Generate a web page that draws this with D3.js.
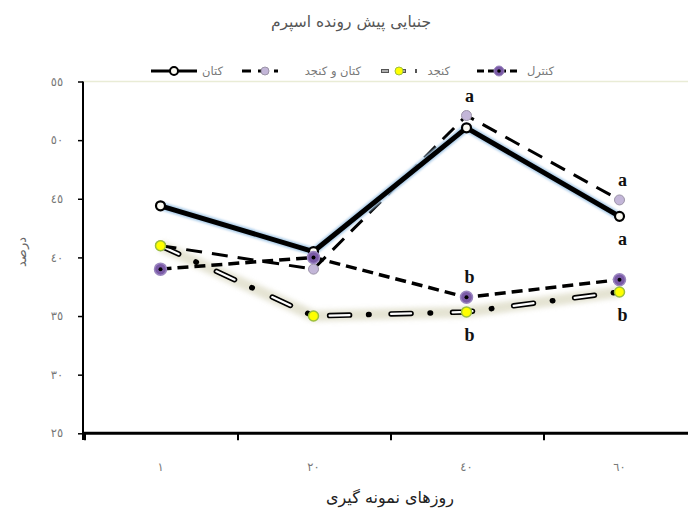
<!DOCTYPE html>
<html><head><meta charset="utf-8">
<script src="https://cdn.jsdelivr.net/npm/d3@7"></script>
<style>body{margin:0;background:#fff}svg{display:block}</style>
</head><body>
<svg id="c" width="688" height="509"></svg>
<script>
const categories = ["1","20","40","60"];
const xTickLabels = ["١","٢٠","٤٠","٦٠"];
const yTicks = [25,30,35,40,45,50,55];
const yTickLabels = ["٢٥","٣٠","٣٥","٤٠","٤٥","٥٠","٥٥"];
const seriesNames = ["کتان","کتان و کنجد","کنجد","کنترل"];
const flax = [44.4, 40.5, 51.05, 43.5];
const flaxSesame = [41.0, 39.0, 52.1, 44.9];
const sesame = [41.0, 35.0, 35.35, 37.05];
const control = [39.0, 40.0, 36.6, 38.1];
// significance letters: [series, categoryIndex, letter, position]
const letters = [
  ["flaxSesame",2,"a","above"],
  ["control",2,"b","above"],
  ["sesame",2,"b","below"],
  ["flaxSesame",3,"a","above"],
  ["flax",3,"a","below"],
  ["sesame",3,"b","below"]
];
const title = "جنبایی پیش رونده اسپرم";
const xTitle = "روزهای نمونه گیری";
const yTitle = "درصد";

const svg = d3.select("#c");
const fontFa = "'DejaVu Sans', sans-serif";
const x = d3.scaleBand().domain(categories).range([84, 696]).padding(0);
const y = d3.scaleLinear().domain([25,55]).range([433.3, 81.5]);
const cx = d => x(d) + x.bandwidth()/2;

const defs = svg.append("defs");
const gl = defs.append("filter").attr("id","glowS").attr("x","-20%").attr("y","-50%").attr("width","140%").attr("height","200%");
gl.append("feGaussianBlur").attr("stdDeviation",2.5);
const gb = defs.append("filter").attr("id","glowB").attr("x","-20%").attr("y","-50%").attr("width","140%").attr("height","200%");
gb.append("feGaussianBlur").attr("stdDeviation",1.2);

// faint top border
svg.append("line").attr("x1",84).attr("x2",688).attr("y1",81.5).attr("y2",81.5)
  .attr("stroke","#e9ecd6").attr("stroke-width",1.5);

// axes
const yAxis = d3.axisLeft(y).tickValues(yTicks).tickSize(5).tickFormat((d,i)=>yTickLabels[i]);
const gy = svg.append("g").attr("transform","translate(83,0)").call(yAxis);
gy.select(".domain").attr("stroke","#000").attr("stroke-width",2).attr("d","M0,81.5V440");
gy.selectAll(".tick line").attr("stroke","#000").attr("stroke-width",1.5);
gy.selectAll(".tick text").attr("x",-26).attr("text-anchor","middle").attr("fill","#777")
  .style("font-family",fontFa).style("font-size","11.5px");

const gx = svg.append("g").attr("transform","translate(0,433.3)");
gx.append("line").attr("x1",82).attr("x2",688).attr("stroke","#000").attr("stroke-width",3);
const bounds = categories.map(c => x(c));
gx.selectAll(".tk").data(bounds).enter().append("line")
  .attr("x1",d=>d+1).attr("x2",d=>d+1).attr("y1",0).attr("y2",7).attr("stroke","#000").attr("stroke-width",2);
gx.selectAll(".lb").data(categories).enter().append("text")
  .attr("x",d=>cx(d)).attr("y",38).attr("text-anchor","middle").attr("fill","#777")
  .style("font-family",fontFa).style("font-size","11.5px").text((d,i)=>xTickLabels[i]);

// titles
svg.append("text").attr("x",351).attr("y",27).attr("text-anchor","middle").attr("fill","#555")
  .style("font-family",fontFa).style("font-size","15.5px").text(title);
svg.append("text").attr("x",390).attr("y",503).attr("text-anchor","middle").attr("fill","#222")
  .style("font-family",fontFa).style("font-size","16px").text(xTitle);
svg.append("text").attr("transform","translate(26,252) rotate(-90)").attr("text-anchor","middle").attr("fill","#666")
  .style("font-family",fontFa).style("font-size","13px").text(yTitle);

const line = d3.line().x((d,i)=>cx(categories[i])).y(d=>y(d));

// sesame line (white dash outlined, black dots, soft glow)
svg.append("path").attr("d",line(sesame)).attr("fill","none").attr("stroke","#dcdac4")
  .attr("stroke-width",11).attr("opacity",0.75).attr("filter","url(#glowS)");
svg.append("path").attr("d",line(sesame)).attr("fill","none").attr("stroke","#000")
  .attr("stroke-width",5.5).attr("stroke-linecap","round").attr("stroke-dasharray","20 19 0.5 22");
svg.append("path").attr("d",line(sesame)).attr("fill","none").attr("stroke","#fff")
  .attr("stroke-width",2.2).attr("stroke-linecap","round").attr("stroke-dasharray","20 41.5");

// control line
svg.append("path").attr("d",line(control)).attr("fill","none").attr("stroke","#000")
  .attr("stroke-width",3.5).attr("stroke-dasharray","11 6");

// flax + sesame line
svg.append("path").attr("d",line(flaxSesame)).attr("fill","none").attr("stroke","#000")
  .attr("stroke-width",3).attr("stroke-dasharray","16 10");

// flax line with light-blue glow
svg.append("path").attr("d",line(flax)).attr("fill","none").attr("stroke","#a9cbe8")
  .attr("stroke-width",8).attr("filter","url(#glowB)");
svg.append("path").attr("d",line(flax)).attr("fill","none").attr("stroke","#000")
  .attr("stroke-width",5).attr("stroke-linejoin","round");

// markers
function markers(data, fill, stroke, sw, r, dot){
  const g = svg.append("g");
  g.selectAll("circle").data(data).enter().append("circle")
    .attr("cx",(d,i)=>cx(categories[i])).attr("cy",d=>y(d)).attr("r",r)
    .attr("fill",fill).attr("stroke",stroke).attr("stroke-width",sw);
  if(dot) g.selectAll(".dt").data(data).enter().append("circle")
    .attr("cx",(d,i)=>cx(categories[i])).attr("cy",d=>y(d)).attr("r",2).attr("fill","#000");
}
markers(flax, "#fbfaf2", "#000", 2.2, 4.5, false);
markers(flaxSesame, "#c3b6d8", "#9c94a8", 1, 5, false);
markers(control, "#7a5aa6", "#9b86c0", 1.5, 6, true);
markers(sesame, "#ffff00", "#9cbf3c", 1.5, 5, false);

// letters
const seriesMap = {flax, flaxSesame, sesame, control};
svg.selectAll(".let").data(letters).enter().append("text")
  .attr("x",d=>cx(categories[d[1]])+3)
  .attr("y",d=>y(seriesMap[d[0]][d[1]]) + (d[3]==="above" ? -14 : 29))
  .attr("text-anchor","middle").attr("fill","#111")
  .style("font-family","'Liberation Serif', serif").style("font-weight","bold").style("font-size","18px")
  .text(d=>d[2]);

// legend
const lg = svg.append("g").attr("transform","translate(0,71)");
function legText(xr, t){ lg.append("text").attr("x",xr).attr("y",4).attr("text-anchor","end").attr("fill","#777")
  .style("font-family",fontFa).style("font-size","11.5px").text(t); }
// flax
lg.append("line").attr("x1",151).attr("x2",197).attr("stroke","#000").attr("stroke-width",3);
lg.append("circle").attr("cx",174).attr("cy",0).attr("r",4).attr("fill","#fbfaf2").attr("stroke","#000").attr("stroke-width",2);
legText(223, seriesNames[0]);
// flax + sesame
lg.append("line").attr("x1",242).attr("x2",278).attr("stroke","#000").attr("stroke-width",3).attr("stroke-dasharray","9 7");
lg.append("circle").attr("cx",265).attr("cy",0).attr("r",4).attr("fill","#c3b6d8").attr("stroke","#9c94a8");
legText(361, seriesNames[1]);
// sesame
lg.append("line").attr("x1",381).attr("x2",417).attr("stroke","#555").attr("stroke-width",4).attr("stroke-dasharray","8 9");
lg.append("line").attr("x1",382).attr("x2",416).attr("stroke","#ccc").attr("stroke-width",1.5).attr("stroke-dasharray","6 11");
lg.append("circle").attr("cx",399).attr("cy",0).attr("r",4).attr("fill","#ffff00").attr("stroke","#9cbf3c");
legText(450, seriesNames[2]);
// control
lg.append("line").attr("x1",477).attr("x2",521).attr("stroke","#000").attr("stroke-width",3).attr("stroke-dasharray","7 4");
lg.append("circle").attr("cx",499).attr("cy",0).attr("r",5).attr("fill","#7a5aa6").attr("stroke","#9b86c0");
lg.append("circle").attr("cx",499).attr("cy",0).attr("r",1.8).attr("fill","#000");
legText(554, seriesNames[3]);
</script>
</body></html>
